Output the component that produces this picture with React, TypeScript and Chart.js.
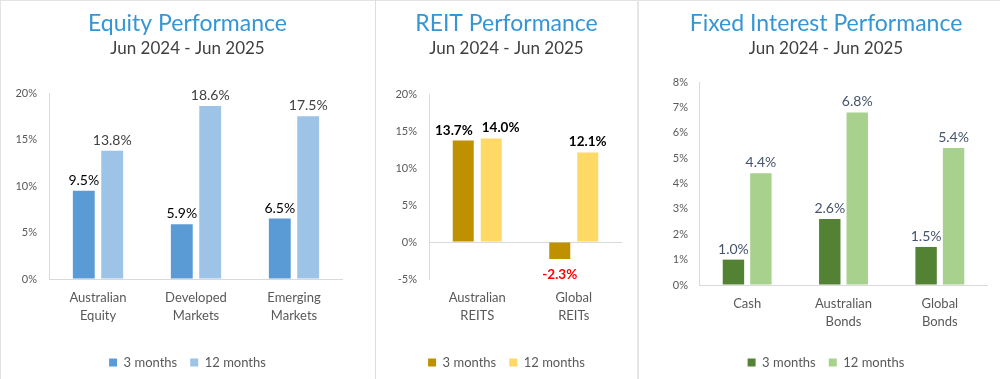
import React, { useEffect, useRef } from "react";
import { Chart, registerables } from "chart.js";

Chart.register(...registerables);

const FONT = "Lato, 'Noto Sans', sans-serif";

// ---------- Data ----------
const seriesNames = ["3 months", "12 months"];

const equityCategories = [["Australian", "Equity"], ["Developed", "Markets"], ["Emerging", "Markets"]];
const equity3m = [9.5, 5.9, 6.5];
const equity12m = [13.8, 18.6, 17.5];

const reitCategories = [["Australian", "REITS"], ["Global", "REITs"]];
const reit3m = [13.7, -2.3];
const reit12m = [14.0, 12.1];

const fixedCategories = [["Cash"], ["Australian", "Bonds"], ["Global", "Bonds"]];
const fixed3m = [1.0, 2.6, 1.5];
const fixed12m = [4.4, 6.8, 5.4];

const subtitleText = "Jun 2024 - Jun 2025";

// ---------- Plugin for value labels ----------
const barLabelsPlugin = {
  id: "barLabels",
  afterDatasetsDraw(chart: any, _args: any, opts: any) {
    const ctx = chart.ctx;
    ctx.save();
    ctx.font = `${opts.bold ? "bold " : ""}${opts.size}px ${FONT}`;
    ctx.textAlign = "center";
    const n = chart.data.labels.length;
    for (let j = 0; j < n; j++) {
      const items: any[] = [];
      chart.data.datasets.forEach((ds: any, i: number) => {
        const bar = chart.getDatasetMeta(i).data[j];
        const v = ds.data[j];
        const txt = v.toFixed(1) + "%";
        items.push({ i, v, txt, x: bar.x, y: bar.y, w: ctx.measureText(txt).width });
      });
      // avoid overlap between neighbouring positive labels
      for (let k = 0; k + 1 < items.length; k++) {
        const a = items[k];
        const b = items[k + 1];
        if (a.v >= 0 && b.v >= 0 && Math.abs(a.y - b.y) < opts.size) {
          const need = a.w / 2 + b.w / 2 + opts.gap;
          const dist = b.x - a.x;
          if (dist < need) {
            const shift = (need - dist) / 2;
            a.x -= shift;
            b.x += shift;
          }
        }
      }
      items.forEach((it) => {
        if (it.v >= 0) {
          ctx.fillStyle = opts.colors[it.i];
          ctx.textBaseline = "alphabetic";
          ctx.fillText(it.txt, it.x, it.y - opts.offset);
        } else {
          ctx.fillStyle = opts.negColor;
          ctx.textBaseline = "top";
          ctx.fillText(it.txt, it.x, it.y + opts.negOffset);
        }
      });
    }
    ctx.restore();
  },
};

type PanelProps = {
  left: number;
  width: number;
  title: string;
  categories: string[][];
  s3: number[];
  s12: number[];
  c3: string;
  c12: string;
  yMin: number;
  yMax: number;
  yStep: number;
  yAxisWidth: number;
  yTickPad: number;
  rightWidth: number;
  subPadBottom: number;
  xAxisHeight: number;
  catPct: number;
  barPct: number;
  labelColors: string[];
  labelBold: boolean;
  labelSize: number;
};

function Panel(p: PanelProps) {
  const ref = useRef<HTMLCanvasElement | null>(null);
  useEffect(() => {
    if (!ref.current) return;
    const chart = new Chart(ref.current, {
      type: "bar",
      data: {
        labels: p.categories,
        datasets: [
          {
            label: seriesNames[0],
            data: p.s3,
            backgroundColor: p.c3,
            borderWidth: 0,
            categoryPercentage: p.catPct,
            barPercentage: p.barPct,
          },
          {
            label: seriesNames[1],
            data: p.s12,
            backgroundColor: p.c12,
            borderWidth: 0,
            categoryPercentage: p.catPct,
            barPercentage: p.barPct,
          },
        ],
      },
      options: {
        responsive: false,
        animation: false,
        devicePixelRatio: 1,
        layout: { padding: 0 },
        plugins: {
          title: {
            display: true,
            text: p.title,
            color: "#3596D6",
            font: { family: FONT, size: 23, weight: "normal" },
            padding: { top: 9.7, bottom: 0 },
          },
          subtitle: {
            display: true,
            text: subtitleText,
            color: "#404040",
            font: { family: FONT, size: 17, weight: "normal" },
            padding: { top: 1.5, bottom: p.subPadBottom },
          },
          legend: {
            display: true,
            position: "bottom",
            labels: {
              boxWidth: 8,
              boxHeight: 8,
              padding: 13,
              color: "#595959",
              font: { family: FONT, size: 13 },
            },
          },
          tooltip: { enabled: false },
          barLabels: {
            size: p.labelSize,
            bold: p.labelBold,
            colors: p.labelColors,
            negColor: "#FF0000",
            offset: 6,
            negOffset: 9,
            gap: 9,
          },
        } as any,
        scales: {
          x: {
            grid: { display: false, drawTicks: false },
            border: { display: false },
            ticks: {
              color: "#595959",
              font: { family: FONT, size: 13, lineHeight: 1.385 },
              padding: 10,
              maxRotation: 0,
              autoSkip: false,
            },
            afterFit: (s: any) => {
              s.height = p.xAxisHeight;
            },
          },
          y: {
            min: p.yMin,
            max: p.yMax,
            grid: {
              drawTicks: false,
              color: (c: any) => (c.tick && c.tick.value === 0 ? "#D9D9D9" : "rgba(0,0,0,0)"),
              lineWidth: 1,
            },
            border: { display: true, color: "#D9D9D9" },
            ticks: {
              stepSize: p.yStep,
              color: "#595959",
              font: { family: FONT, size: 11 },
              padding: p.yTickPad,
              callback: (v: any) => v + "%",
            },
            afterFit: (s: any) => {
              s.width = p.yAxisWidth;
            },
          },
          yR: {
            position: "right",
            display: true,
            grid: { display: false, drawTicks: false },
            border: { display: false },
            ticks: { display: false },
            afterFit: (s: any) => {
              s.width = p.rightWidth;
            },
          },
        },
      } as any,
      plugins: [barLabelsPlugin as any],
    });
    return () => chart.destroy();
  }, []);
  return (
    <div style={{ position: "absolute", left: p.left, top: 0, width: p.width, height: 379 }}>
      <canvas ref={ref} width={p.width} height={379} style={{ display: "block" }} />
    </div>
  );
}

export default function App() {
  return (
    <div
      style={{
        position: "fixed",
        left: 0,
        top: 0,
        width: 1000,
        height: 379,
        overflow: "hidden",
        background: "#fff",
      }}
    >
      <Panel
        left={0}
        width={375}
        title="Equity Performance"
        categories={equityCategories}
        s3={equity3m}
        s12={equity12m}
        c3="#5B9BD5"
        c12="#9DC3E6"
        yMin={0}
        yMax={20}
        yStep={5}
        yAxisWidth={49}
        yTickPad={12}
        rightWidth={32}
        subPadBottom={33.8}
        xAxisHeight={64}
        catPct={0.58}
        barPct={0.77}
        labelColors={["#000000", "#404040"]}
        labelBold={false}
        labelSize={14}
      />
      <Panel
        left={375}
        width={263}
        title="REIT Performance"
        categories={reitCategories}
        s3={reit3m}
        s12={reit12m}
        c3="#BF9000"
        c12="#FFD966"
        yMin={-5}
        yMax={20}
        yStep={5}
        yAxisWidth={54}
        yTickPad={12}
        rightWidth={16}
        subPadBottom={34.8}
        xAxisHeight={64}
        catPct={0.58}
        barPct={0.75}
        labelColors={["#000000", "#000000"]}
        labelBold={true}
        labelSize={13.5}
      />
      <Panel
        left={638}
        width={376}
        title="Fixed Interest Performance"
        categories={fixedCategories}
        s3={fixed3m}
        s12={fixed12m}
        c3="#548235"
        c12="#A9D18E"
        yMin={0}
        yMax={8}
        yStep={1}
        yAxisWidth={61}
        yTickPad={11}
        rightWidth={26}
        subPadBottom={22.8}
        xAxisHeight={58}
        catPct={0.57}
        barPct={0.78}
        labelColors={["#44546A", "#44546A"]}
        labelBold={false}
        labelSize={14}
      />
      <div style={{ position: "absolute", left: 0, top: 0, width: 1000, height: 1, background: "#E3E3E3" }} />
      <div style={{ position: "absolute", left: 0, top: 0, width: 1, height: 379, background: "#E3E3E3" }} />
      <div style={{ position: "absolute", left: 375, top: 0, width: 1, height: 379, background: "#DDDDDD" }} />
      <div style={{ position: "absolute", left: 637, top: 0, width: 2, height: 379, background: "#E6E6E6" }} />
    </div>
  );
}
